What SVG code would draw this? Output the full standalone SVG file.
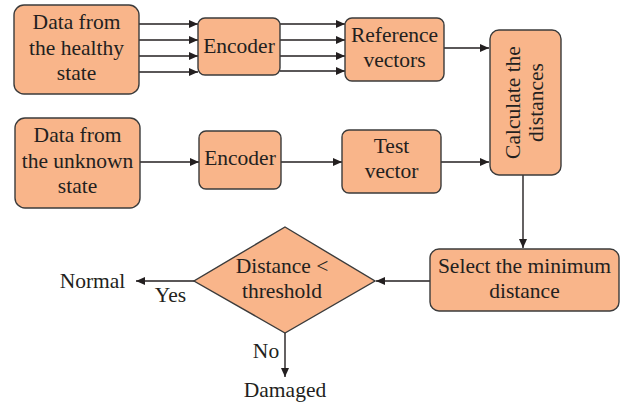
<svg xmlns="http://www.w3.org/2000/svg" width="627" height="405" viewBox="0 0 627 405">
<defs>
<marker id="ah" markerWidth="9" markerHeight="8" refX="9" refY="4" orient="auto" markerUnits="userSpaceOnUse">
<path d="M0,0 L9,4 L0,8 Z" fill="#231f20"/>
</marker>
<style>
.box{fill:#f9b58a;stroke:#3b3b3b;stroke-width:1.4}
.t{font-family:"Liberation Serif","Times New Roman",serif;font-size:21.5px;fill:#231f20;text-anchor:middle}
.c{fill:none;stroke:#231f20;stroke-width:1.4}
</style>
</defs>
<rect width="627" height="405" fill="#fff"/>
<g id="connectors">
<line class="c" x1="139" y1="24" x2="198" y2="24" marker-end="url(#ah)"/>
<line class="c" x1="139" y1="40" x2="198" y2="40" marker-end="url(#ah)"/>
<line class="c" x1="139" y1="56" x2="198" y2="56" marker-end="url(#ah)"/>
<line class="c" x1="139" y1="72" x2="198" y2="72" marker-end="url(#ah)"/>
<line class="c" x1="280" y1="24" x2="345" y2="24" marker-end="url(#ah)"/>
<line class="c" x1="280" y1="40" x2="345" y2="40" marker-end="url(#ah)"/>
<line class="c" x1="280" y1="56" x2="345" y2="56" marker-end="url(#ah)"/>
<line class="c" x1="280" y1="71" x2="345" y2="71" marker-end="url(#ah)"/>
<line class="c" x1="444" y1="48" x2="489" y2="48" marker-end="url(#ah)"/>
<line class="c" x1="140" y1="162" x2="199" y2="162" marker-end="url(#ah)"/>
<line class="c" x1="281" y1="162" x2="342" y2="162" marker-end="url(#ah)"/>
<line class="c" x1="441" y1="162" x2="489" y2="162" marker-end="url(#ah)"/>
<line class="c" x1="523" y1="175" x2="523" y2="248" marker-end="url(#ah)"/>
<line class="c" x1="430" y1="281" x2="376" y2="281" marker-end="url(#ah)"/>
<line class="c" x1="194" y1="281" x2="136" y2="281" marker-end="url(#ah)"/>
<line class="c" x1="285" y1="333" x2="285" y2="377" marker-end="url(#ah)"/>
</g>
<g id="healthy">
<rect class="box" x="14" y="5" width="125" height="89" rx="10"/>
<text class="t" x="76.5" y="29">Data from</text>
<text class="t" x="76.5" y="54.5">the healthy</text>
<text class="t" x="76.5" y="80">state</text>
</g>
<g id="encoder1">
<rect class="box" x="198" y="18" width="82" height="57" rx="7"/>
<text class="t" x="239" y="53">Encoder</text>
</g>
<g id="reference">
<rect class="box" x="345" y="18" width="99" height="63" rx="7"/>
<text class="t" x="394.5" y="42">Reference</text>
<text class="t" x="394.5" y="67">vectors</text>
</g>
<g id="calculate">
<rect class="box" x="490" y="30" width="71" height="145" rx="9"/>
<text class="t" transform="translate(520,102.5) rotate(-90)" x="0" y="0">Calculate the</text>
<text class="t" transform="translate(543,102.5) rotate(-90)" x="0" y="0">distances</text>
</g>
<g id="unknown">
<rect class="box" x="15" y="118" width="125" height="90" rx="10"/>
<text class="t" x="77.5" y="142">Data from</text>
<text class="t" x="77.5" y="168">the unknown</text>
<text class="t" x="77.5" y="193">state</text>
</g>
<g id="encoder2">
<rect class="box" x="199" y="131" width="82" height="58" rx="7"/>
<text class="t" x="240" y="165">Encoder</text>
</g>
<g id="test">
<rect class="box" x="342" y="130" width="99" height="63" rx="7"/>
<text class="t" x="391.5" y="153">Test</text>
<text class="t" x="391.5" y="178">vector</text>
</g>
<g id="select">
<rect class="box" x="430" y="249" width="189" height="62" rx="9"/>
<text class="t" x="524.5" y="273">Select the minimum</text>
<text class="t" x="524.5" y="298">distance</text>
</g>
<g id="decision">
<polygon class="box" points="285,227 375,281 285,333 194,281"/>
<text class="t" x="282" y="273">Distance &lt;</text>
<text class="t" x="282" y="298">threshold</text>
</g>
<g id="labels">
<text class="t" x="92.5" y="288">Normal</text>
<text class="t" x="170.5" y="302">Yes</text>
<text class="t" x="266" y="358">No</text>
<text class="t" x="285" y="397">Damaged</text>
</g>
</svg>
